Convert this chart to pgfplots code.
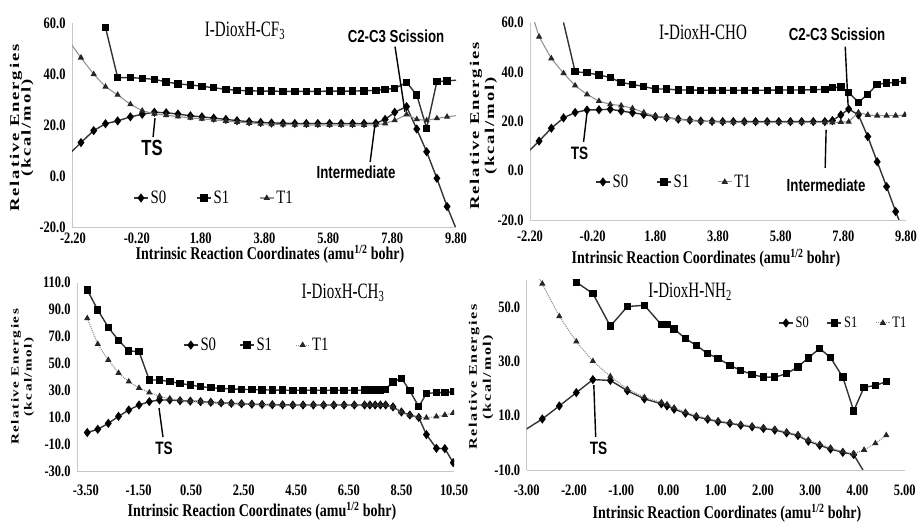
\documentclass[border=0pt]{standalone}
\usepackage{fontspec}
\setmainfont{Liberation Serif}[FakeStretch=0.78]
\newfontfamily\annfont{Liberation Sans}[FakeStretch=0.76]
\newfontfamily\ylfont{Liberation Serif}[LetterSpace=10]
\usepackage{graphicx}
\usepackage{pgfplots}
\usepackage{pgfplotstable}
\pgfplotsset{compat=1.18}

% Panel 1: I-DioxH-CF3
\pgfplotstableread{
x S0 S1 T1
-2.40 7.5 nan 54.2
-1.95 13.1 nan 46.4
-1.55 17.8 nan 39.9
-1.18 20.5 58.2 35.0
-0.80 21.6 38.6 31.8
-0.40 23.2 38.6 28.1
-0.03 24.2 38.3 25.6
0.35 25.0 37.9 24.4
0.72 24.8 36.9 23.8
1.09 24.3 36.1 23.3
1.48 23.6 35.7 22.8
1.84 23.2 35.2 22.4
2.21 22.7 34.6 22.0
2.59 22.2 34.0 21.6
2.94 21.7 33.6 21.2
3.32 21.3 33.4 20.8
3.68 21.0 33.3 20.5
4.02 20.8 33.3 20.3
4.38 20.7 33.2 20.2
4.75 20.6 33.2 20.1
5.11 20.6 33.2 20.0
5.47 20.6 33.2 20.0
5.84 20.6 33.3 20.0
6.20 20.6 33.3 20.0
6.56 20.6 33.3 20.0
6.92 20.6 33.4 20.0
7.29 20.7 33.6 20.1
7.58 22.2 34.0 20.6
7.88 25.0 34.3 21.8
8.25 27.2 36.7 24.1
8.57 18.4 31.8 22.2
8.88 9.5 18.7 21.8
9.20 -0.9 37.0 22.6
9.52 -12.0 37.3 23.2
9.83 -21.5 37.6 23.7
}\tabA

% Panel 2: I-DioxH-CHO
\pgfplotstableread{
x S0 S1 T1
-2.40 5.9 nan nan
-2.10 nan nan 62.0
-1.91 12.0 nan 54.3
-1.52 17.2 nan 45.5
-1.13 21.4 60.1 39.5
-0.76 23.6 40.1 34.5
-0.38 24.6 39.7 30.9
0.00 24.7 38.8 28.2
0.36 24.9 37.8 26.9
0.71 24.2 35.7 26.4
1.07 23.5 35.0 25.3
1.43 22.8 34.1 23.6
1.80 21.9 33.1 22.2
2.16 21.5 33.1 21.4
2.53 20.9 32.7 20.8
2.90 20.5 32.7 20.4
3.25 20.1 32.6 20.0
3.61 20.0 32.6 19.8
3.95 19.9 32.6 19.7
4.29 19.9 32.6 19.6
4.64 19.9 32.6 19.6
5.00 19.9 32.6 19.6
5.37 19.9 32.6 19.6
5.74 19.9 32.7 19.6
6.11 19.9 32.7 19.6
6.47 19.9 32.7 19.6
6.84 19.9 32.8 19.6
7.21 19.9 33.0 19.6
7.45 20.3 33.6 19.5
7.72 22.6 34.0 19.7
7.97 25.0 31.7 19.8
8.28 22.6 27.7 23.6
8.58 13.8 31.0 22.6
8.88 3.6 35.0 22.3
9.18 -6.5 35.5 22.3
9.47 -16.6 35.8 22.3
9.76 -26.0 36.5 22.6
}\tabB

% Panel 3: I-DioxH-CH3
\pgfplotstableread{
x S0 S1 T1
-3.45 -1.0 104.6 83.6
-3.05 1.4 89.8 64.5
-2.65 5.8 77.0 52.7
-2.26 11.0 67.2 43.1
-1.87 15.7 59.5 36.7
-1.48 19.4 58.9 32.0
-1.09 21.9 37.9 28.6
-0.70 23.1 37.9 25.9
-0.31 23.1 36.7 24.0
0.08 22.6 35.4 22.8
0.47 22.3 34.2 22.2
0.86 21.9 33.0 21.8
1.25 21.4 32.2 21.3
1.64 21.0 31.7 20.9
2.03 20.6 31.3 20.5
2.42 20.3 31.0 20.2
2.81 20.0 30.8 19.9
3.20 19.8 30.6 19.7
3.59 19.6 30.5 19.5
3.98 19.5 30.4 19.4
4.37 19.4 30.3 19.3
4.76 19.4 30.3 19.3
5.15 19.4 30.3 19.3
5.54 19.4 30.3 19.3
5.93 19.4 30.3 19.3
6.32 19.4 30.3 19.3
6.71 19.4 30.3 19.3
7.10 19.4 30.4 19.3
7.30 19.4 30.4 19.3
7.50 19.4 30.5 19.3
7.70 19.4 30.6 19.3
7.90 19.4 31.0 19.3
8.18 18.0 36.5 17.8
8.50 14.2 39.2 14.0
8.82 12.0 30.0 11.8
9.16 10.2 18.1 10.2
9.45 -2.5 28.0 10.0
9.83 -12.7 28.5 10.8
10.15 -12.9 28.6 12.0
10.47 -23.3 29.3 13.5
}\tabC

% Panel 4: I-DioxH-NH2
\pgfplotstableread{
x S0 S1 T1
-3.05 4.6 nan nan
-2.80 nan nan 62.5
-2.67 8.8 nan 58.6
-2.31 13.6 nan 46.6
-2.15 nan 63.0 nan
-1.95 18.5 59.2 37.3
-1.60 23.3 55.0 30.1
-1.23 23.0 43.0 24.5
-0.87 19.2 50.2 19.8
-0.51 16.2 50.7 16.8
-0.15 14.4 43.5 14.9
-0.03 13.6 43.5 14.1
0.12 12.4 42.0 12.9
0.36 10.9 38.4 11.3
0.59 9.6 35.9 10.0
0.83 8.7 32.9 9.0
1.05 7.8 31.1 8.1
1.30 7.2 28.6 7.5
1.53 6.5 26.7 6.8
1.77 5.9 25.2 6.2
2.01 5.3 24.2 5.6
2.25 4.7 24.2 5.0
2.50 3.7 25.5 4.0
2.74 2.7 28.0 3.0
2.96 0.6 31.3 1.0
3.20 -0.9 34.8 -0.5
3.43 -2.3 31.4 -1.9
3.69 -3.5 24.2 -3.2
3.92 -4.3 11.8 -4.1
4.14 nan 20.5 -2.6
4.20 -12.5 nan nan
4.38 nan 21.1 -0.2
4.61 nan 22.6 2.8
}\tabD

\pgfplotsset{
  irc/.style={
    scale only axis,
    clip marker paths=true,
    axis x line*=bottom, axis y line*=left,
    axis line style={draw=black!22, line width=0.8bp, -},
    major tick length=0pt,
    tick label style={font=\fontsize{16}{16}\selectfont\bfseries},
    xticklabel style={anchor=center,
      /pgf/number format/fixed, /pgf/number format/fixed zerofill,
      /pgf/number format/precision=2, /pgf/number format/assume math mode=true},
    yticklabel style={anchor=east, xshift=-3bp,
      /pgf/number format/fixed, /pgf/number format/fixed zerofill,
      /pgf/number format/precision=1, /pgf/number format/assume math mode=true},
    legend columns=3,
    legend cell align=left,
    legend style={draw=none, fill=none, anchor=west, inner sep=0pt,
      font=\fontsize{19}{19}\selectfont},
    legend image code/.code={\draw[mark repeat=2,mark phase=2,##1] plot coordinates {(0bp,0bp) (7bp,0bp) (14bp,0bp)};},
    unbounded coords=discard,
    filter discard warning=false,
  },
  s0/.style={draw=black!80, line width=1.4bp, mark=diamond*, mark size=3.5bp,
    mark options={solid, fill=black, draw=black}},
  s1/.style={draw=black!80, line width=1.4bp, mark=square*, mark size=3.0bp,
    mark options={solid, fill=black, draw=black}},
  t1/.style={draw=black!42, line width=1.1bp, mark=triangle*, mark size=2.6bp,
    mark options={solid, fill=black!85, draw=black!85}},
}
\tikzset{
  ann/.style={font=\annfont\bfseries\fontsize{17.5}{17.5}\selectfont, inner sep=0pt},
  leader/.style={draw=black, line width=1.4bp},
  ttl/.style={inner sep=0pt},
  xl/.style={font=\fontsize{18}{18}\selectfont\bfseries, inner sep=0pt},
}
\newcommand\ttltext[1]{\scalebox{0.88}[1]{\fontsize{22}{22}\selectfont #1}}
\newcommand\ylA[1]{\scalebox{1}[0.72]{\ylfont\bfseries\fontsize{#1}{#1}\selectfont Relative Energies}}
\newcommand\ylB[1]{\scalebox{1}[0.72]{\ylfont\bfseries\fontsize{#1}{#1}\selectfont (kcal/mol)}}

\begin{document}
\begin{tikzpicture}[x=1bp,y=1bp]
\useasboundingbox (0,0) rectangle (918,523);

% ---------- Panel 1 ----------
\begin{axis}[irc, at={(72bp,296bp)}, anchor=south west, width=384bp, height=204bp,
  xmin=-2.23, xmax=9.8, ymin=-20, ymax=60,
  xtick={-2.2,-0.2,1.8,3.8,5.8,7.8,9.8}, ytick={-20,0,20,40,60},
  xticklabel style={yshift=-11bp},
  legend style={at={(0.159,0.142)}, /tikz/every even column/.append style={column sep=28bp}}]
\addplot[s0] table[x=x,y=S0] {\tabA};
\addplot[s1] table[x=x,y=S1] {\tabA};
\addplot[t1] table[x=x,y=T1] {\tabA};
\legend{S0,S1,T1}
\node[ann, font=\annfont\bfseries\fontsize{22}{22}\selectfont] at (axis cs:0.28,11.0) {TS};
\draw[leader] (axis cs:0.31,15.3) -- (axis cs:0.37,22.7);
\node[ann] at (axis cs:6.67,1.6) {Intermediate};
\draw[leader] (axis cs:7.11,5.5) -- (axis cs:7.26,20.0);
\node[ann] at (axis cs:7.92,54.6) {C2-C3 Scission};
\draw[leader] (axis cs:7.89,50.7) -- (axis cs:8.20,25.2);
\end{axis}

% ---------- Panel 2 ----------
\begin{axis}[irc, at={(530bp,303bp)}, anchor=south west, width=376bp, height=197.3bp,
  xmin=-2.2, xmax=9.8, ymin=-20, ymax=60,
  xtick={-2.2,-0.2,1.8,3.8,5.8,7.8,9.8}, ytick={-20,0,20,40,60},
  xticklabel style={yshift=-16bp},
  legend style={at={(0.173,0.193)}, /tikz/every even column/.append style={column sep=26bp}}]
\addplot[s0] table[x=x,y=S0] {\tabB};
\addplot[s1] table[x=x,y=S1] {\tabB};
\addplot[t1] table[x=x,y=T1] {\tabB};
\legend{S0,S1,T1}
\node[ann, font=\annfont\bfseries\fontsize{18}{18}\selectfont] at (axis cs:-0.62,7.2) {TS};
\draw[leader] (axis cs:-0.49,11.7) -- (axis cs:-0.37,24.7);
\node[ann] at (axis cs:7.25,-5.8) {Intermediate};
\draw[leader] (axis cs:7.22,1.1) -- (axis cs:7.25,16.5);
\node[ann] at (axis cs:7.6,55.1) {C2-C3 Scission};
\draw[leader] (axis cs:7.86,50.3) -- (axis cs:7.95,26.7);
\end{axis}

% ---------- Panel 3 ----------
\begin{axis}[irc, at={(77bp,51.3bp)}, anchor=south west, width=377bp, height=189bp,
  xmin=-3.84, xmax=10.5, ymin=-30, ymax=110,
  xtick={-3.5,-1.5,0.5,2.5,4.5,6.5,8.5,10.5}, ytick={-30,-10,10,30,50,70,90,110},
  xticklabel style={yshift=-19bp},
  legend style={at={(0.281,0.67)}, /tikz/every even column/.append style={column sep=21bp}}]
\addplot[s0] table[x=x,y=S0] {\tabC};
\addplot[s1] table[x=x,y=S1] {\tabC};
\addplot[t1, densely dotted] table[x=x,y=T1] {\tabC};
\legend{S0,S1,T1}
\node[ann, font=\annfont\bfseries\fontsize{18}{18}\selectfont] at (axis cs:-0.53,-12.4) {TS};
\draw[leader] (axis cs:-0.57,-4.3) -- (axis cs:-0.72,17.2);
\end{axis}

% ---------- Panel 4 ----------
\begin{axis}[irc, at={(526.7bp,53bp)}, anchor=south west, width=378bp, height=190bp,
  xmin=-3, xmax=5, ymin=-10, ymax=60,
  xtick={-3,-2,-1,0,1,2,3,4,5}, ytick={-10,10,30,50},
  xticklabel style={yshift=-20bp},
  legend style={at={(0.665,0.774)}, font=\fontsize{16}{16}\selectfont,
    /tikz/every even column/.append style={column sep=16bp}}]
\addplot[s0] table[x=x,y=S0] {\tabD};
\addplot[s1] table[x=x,y=S1] {\tabD};
\addplot[t1, densely dotted] table[x=x,y=T1] {\tabD};
\legend{S0,S1,T1}
\node[ann, font=\annfont\bfseries\fontsize{18}{18}\selectfont] at (axis cs:-1.48,-1.9) {TS};
\draw[leader] (axis cs:-1.54,2.2) -- (axis cs:-1.58,21.3);
\end{axis}

% ---------- Titles ----------
\node[ttl] at (245,492) {\ttltext{I-DioxH-CF\textsubscript{3}}};
\node[ttl] at (703,491) {\ttltext{I-DioxH-CHO}};
\node[ttl] at (343,230) {\ttltext{I-DioxH-CH\textsubscript{3}}};
\node[ttl] at (690,231) {\ttltext{I-DioxH-NH\textsubscript{2}}};

% ---------- x labels ----------
\node[xl] at (270,269) {Intrinsic Reaction Coordinates (amu\textsuperscript{1/2} bohr)};
\node[xl] at (706,265) {Intrinsic Reaction Coordinates (amu\textsuperscript{1/2} bohr)};
\node[xl] at (262,12) {Intrinsic Reaction Coordinates (amu\textsuperscript{1/2} bohr)};
\node[xl] at (727,10) {Intrinsic Reaction Coordinates (amu\textsuperscript{1/2} bohr)};

% ---------- y labels ----------
\node[rotate=90, inner sep=0pt] at (16,395) {\ylA{18.7}};
\node[rotate=90, inner sep=0pt] at (27.5,395) {\ylB{18.7}};
\node[rotate=90, inner sep=0pt] at (476,397) {\ylA{18.7}};
\node[rotate=90, inner sep=0pt] at (491,397) {\ylB{18.7}};
\node[rotate=90, inner sep=0pt] at (16,146) {\ylA{15.2}};
\node[rotate=90, inner sep=0pt] at (29,146) {\ylB{15.2}};
\node[rotate=90, inner sep=0pt] at (474,146) {\ylA{16.2}};
\node[rotate=90, inner sep=0pt] at (488,146) {\ylB{16.2}};
\end{tikzpicture}
\end{document}
